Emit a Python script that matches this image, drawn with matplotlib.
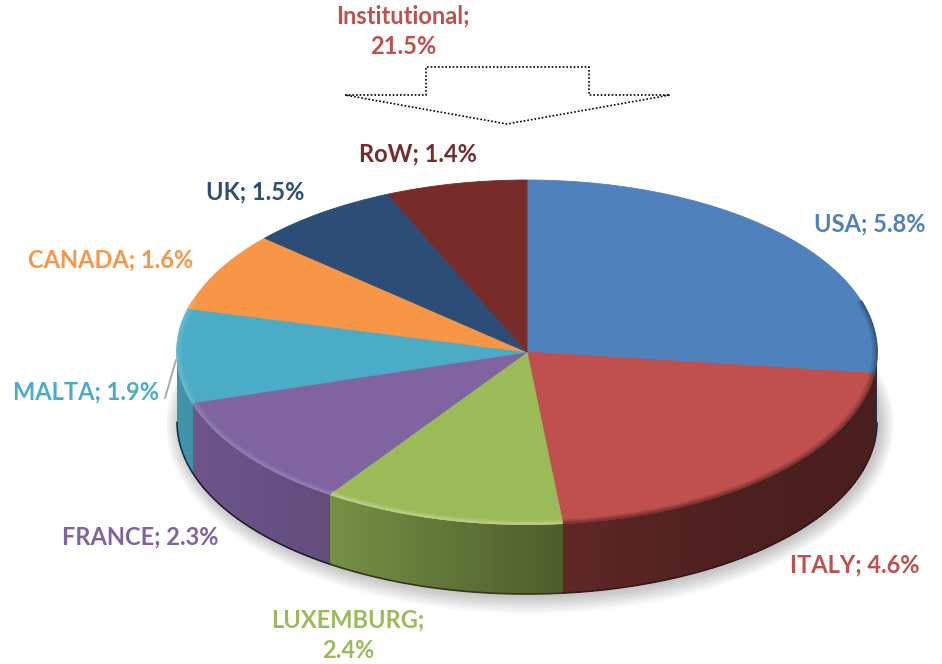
import matplotlib
matplotlib.use("Agg")
import matplotlib.pyplot as plt
from matplotlib.patches import Ellipse, Polygon
import numpy as np

plt.rcParams['font.family'] = ['Lato', 'DejaVu Sans']

# chart values
regions = ['USA', 'ITALY', 'LUXEMBURG', 'FRANCE', 'MALTA', 'CANADA', 'UK', 'RoW']
shares = [5.8, 4.6, 2.4, 2.3, 1.9, 1.6, 1.5, 1.4]
colors = ['#4f81bd', '#bf504d', '#9bbb59', '#8064a2', '#4bacc6', '#f79646', '#2c4d75', '#772c2a']
label_txt = ['USA; 5.8%', 'ITALY; 4.6%', 'LUXEMBURG;\n2.4%', 'FRANCE; 2.3%',
             'MALTA; 1.9%', 'CANADA; 1.6%', 'UK; 1.5%', 'RoW; 1.4%']
total_label = 'Institutional;\n21.5%'

W, H = 942, 664
DEPTH = 70 / 172  # wall height in pie units


def mix(col, f):
    c = np.array(matplotlib.colors.to_rgb(col))
    if f <= 1:
        return tuple(c * f)
    return tuple(c + (1 - c) * (f - 1))


def wall_shade(x):
    return np.interp(x, [-1, -0.57, 0.09, 0.6, 1], [0.86, 0.77, 0.5, 0.4, 0.38])


fig = plt.figure(figsize=(W / 100, H / 100), dpi=100)
ax = fig.add_axes([177 / W, (H - 524) / H, 700 / W, 344 / H])
wedges, _ = ax.pie(shares, colors=colors, startangle=90, counterclock=False, radius=1,
                   wedgeprops={'linewidth': 0, 'zorder': 5})
for w in wedges:
    w.set_edgecolor(w.get_facecolor())
    w.set_linewidth(0.6)
ax.set_aspect('auto')
ax.set_xlim(-1, 1)
ax.set_ylim(-1, 1)

# soft shadow under the pie
for i in range(10):
    e = Ellipse((0.008, -DEPTH - 0.015), 2 + 0.009 * i, 2 + 0.022 * i, color='black',
                alpha=0.022, linewidth=0, zorder=1, clip_on=False)
    ax.add_patch(e)

# side wall of every wedge, then its bevel
for w, col in zip(wedges, colors):
    t = np.radians(np.arange(w.theta1, w.theta2, 0.4))
    t = np.append(t, np.radians(w.theta2))
    for a, b in zip(t[:-1], t[1:]):
        if np.sin((a + b) / 2) < 0:
            xa, xb = np.cos(a), np.cos(b)
            ya, yb = np.sin(a), np.sin(b)
            ax.fill([xa, xb, xb, xa], [ya, yb, yb - DEPTH, ya - DEPTH], linewidth=0,
                    color=mix(col, wall_shade((xa + xb) / 2)), antialiased=False,
                    zorder=2, clip_on=False)
    front = t[np.sin(t) < 0]
    if len(front) > 1:
        ax.plot(np.cos(front), np.sin(front) - DEPTH, color=mix(col, 0.3), lw=1.2,
                zorder=3, clip_on=False)
    rim = t[np.sin(t) < 0.3]
    if len(rim) > 1:
        x_mid = np.cos(rim).mean()
        strong = 1.28 if col == '#9bbb59' else 1.16
        f = strong if x_mid < 0.12 else 0.66
        for r, k, lw in [(0.992, 0.35, 3.0), (0.997, 0.7, 2.0), (1.0, 1.0, 1.2)]:
            ff = 1 + (f - 1) * k
            ax.plot(r * np.cos(rim), r * np.sin(rim), color=mix(col, ff), lw=lw,
                    solid_capstyle='butt', zorder=6, clip_on=False)

# overlay in pixel coordinates for the labels and the arrow
over = fig.add_axes([0, 0, 1, 1], zorder=10)
over.set_xlim(0, W)
over.set_ylim(H, 0)
over.axis('off')

label_pos = [(870, 224), (855, 565), (348, 635), (140, 537), (86, 392), (111, 260), (255, 192), (418, 154)]
for (x, y), s, c in zip(label_pos, label_txt, colors):
    over.text(x, y, s, color=c if c != '#bf504d' else '#c0504d', fontsize=17, fontweight='bold',
              ha='center', va='center', linespacing=1.4)
over.text(403, 31, total_label, color='#c0504d', fontsize=17, fontweight='bold',
          ha='center', va='center', linespacing=1.4)

# leader line for MALTA
over.plot([165, 176], [398, 360], color='#a6a6a6', lw=1.3)

# dotted arrow
arrow = Polygon([(345, 95), (426, 95), (426, 67), (589, 67), (589, 95), (670, 95), (507, 124)],
                closed=True, fill=False, edgecolor='black', lw=1.2, linestyle=(0, (1, 1.2)))
over.add_patch(arrow)

fig.savefig('out.png', dpi=100)
